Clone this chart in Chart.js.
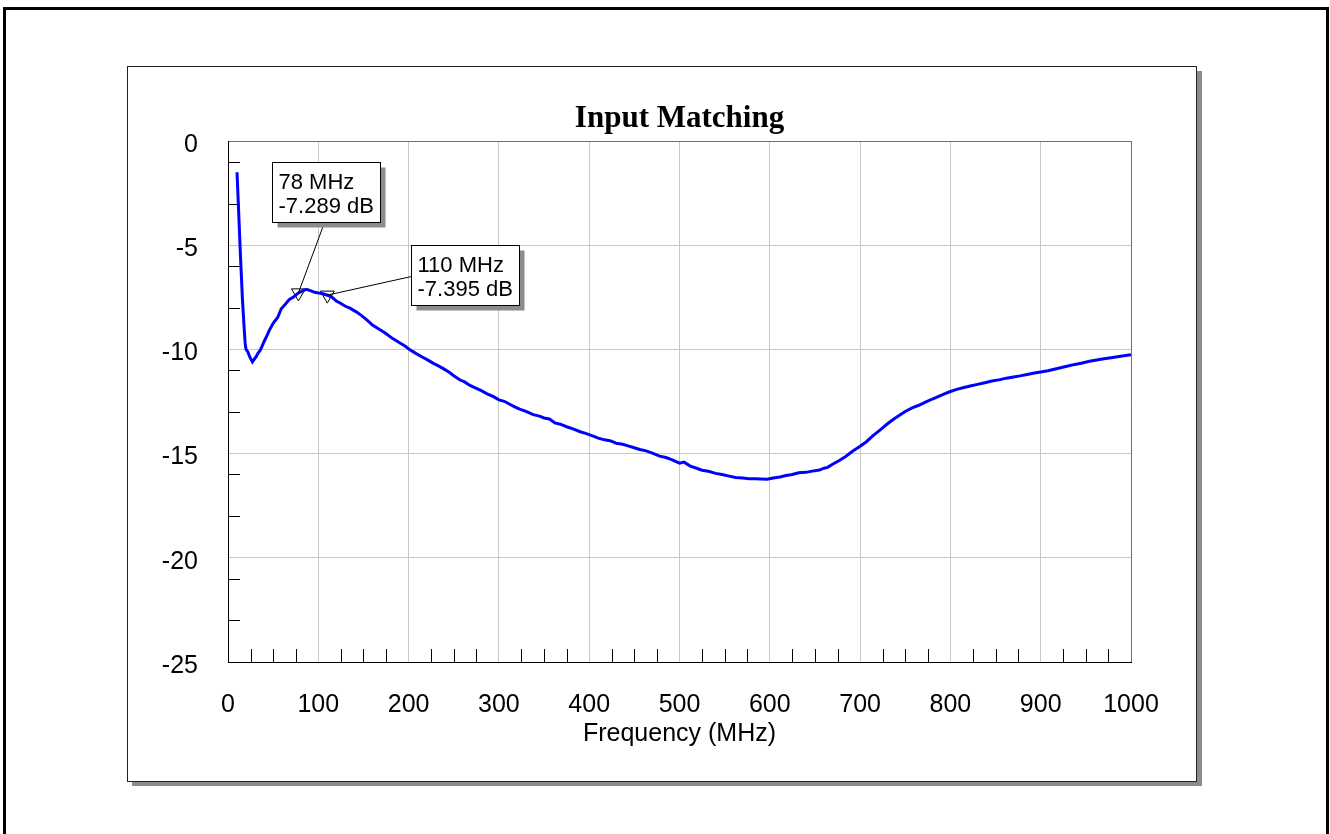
<!DOCTYPE html>
<html>
<head>
<meta charset="utf-8">
<title>Input Matching</title>
<script src="https://cdn.jsdelivr.net/npm/chart.js@4.4.1/dist/chart.umd.min.js"></script>
<style>
  html, body { margin: 0; padding: 0; background: #fff; }
  canvas { display: block; }
</style>
</head>
<body>
<canvas id="s11Chart" width="1330" height="834"></canvas>
<script>
// measured return loss, MHz / dB
const freq = [
  10, 12, 14, 16, 18, 19, 20, 22, 24, 27, 29, 31, 33, 36, 40, 43, 46, 50, 55, 59,
  63, 68, 73, 78, 83, 87, 92, 96, 101, 105, 110, 115, 120, 125, 130, 135, 142, 148, 155, 160,
  167, 174, 182, 190, 196, 201, 208, 214, 220, 227, 233, 238, 245, 250, 257, 262, 268, 275, 280, 287,
  294, 300, 306, 312, 318, 323, 330, 338, 345, 350, 356, 362, 368, 375, 382, 390, 396, 403, 410, 417,
  423, 430, 437, 443, 450, 456, 463, 470, 478, 485, 492, 500, 505, 512, 518, 525, 532, 540, 547, 555,
  562, 570, 577, 584, 590, 597, 604, 611, 618, 625, 632, 640, 647, 655, 660, 664, 670, 677, 684, 692,
  700, 707, 714, 722, 730, 737, 744, 750, 757, 765, 773, 780, 787, 794, 800, 807, 815, 822, 830, 838,
  846, 855, 862, 870, 877, 885, 893, 900, 908, 915, 922, 930, 938, 946, 954, 962, 970, 978, 985, 992,
  1000
];
const s11 = [
  -1.50, -3.60, -5.70, -7.60, -9.05, -9.70, -10.00, -10.12, -10.35, -10.60, -10.48, -10.36, -10.20, -10.02, -9.62, -9.35, -9.06, -8.75, -8.47, -8.05,
  -7.86, -7.60, -7.47, -7.29, -7.18, -7.12, -7.19, -7.26, -7.30, -7.33, -7.40, -7.49, -7.68, -7.80, -7.93, -8.02, -8.20, -8.38, -8.63, -8.83,
  -9.02, -9.21, -9.47, -9.68, -9.84, -10.00, -10.19, -10.34, -10.48, -10.66, -10.79, -10.91, -11.10, -11.26, -11.47, -11.56, -11.73, -11.87, -11.97, -12.13,
  -12.27, -12.42, -12.49, -12.63, -12.77, -12.87, -12.97, -13.13, -13.20, -13.29, -13.34, -13.53, -13.59, -13.71, -13.81, -13.95, -14.03, -14.14, -14.26, -14.34,
  -14.38, -14.50, -14.55, -14.63, -14.72, -14.80, -14.87, -14.98, -15.12, -15.19, -15.30, -15.46, -15.41, -15.60, -15.69, -15.80, -15.85, -15.95, -16.00, -16.08,
  -16.15, -16.17, -16.21, -16.21, -16.22, -16.23, -16.17, -16.12, -16.05, -16.00, -15.92, -15.90, -15.84, -15.79, -15.70, -15.66, -15.50, -15.33, -15.14, -14.88,
  -14.65, -14.43, -14.15, -13.87, -13.58, -13.35, -13.15, -12.98, -12.82, -12.68, -12.52, -12.38, -12.25, -12.12, -12.02, -11.92, -11.83, -11.76, -11.68, -11.60,
  -11.52, -11.45, -11.38, -11.32, -11.27, -11.20, -11.13, -11.08, -11.02, -10.95, -10.88, -10.80, -10.72, -10.65, -10.57, -10.51, -10.45, -10.40, -10.35, -10.30,
  -10.25
];

// marker readouts
const markerFreq = [78, 110];
const markerDb = [-7.289, -7.395];

// axis ticks
const xTicks = [0, 100, 200, 300, 400, 500, 600, 700, 800, 900, 1000];
const yTicks = [0, -5, -10, -15, -20, -25];
const yMinorTicks = [-1, -3, -6, -8, -11, -13, -16, -18, -21, -23];

const chartTitle = "Input Matching";
const xTitle = "Frequency (MHz)";

// callout boxes, offset from their marker in px
const callouts = [
  { dx: -26, dy: -131, w: 108, h: 60, leadX: 52, leadY: 60 },
  { dx: 84, dy: -50, w: 108, h: 60, leadX: 0, leadY: 31 }
];

const AXIS_FONT = "Liberation Sans, Arial, sans-serif";

const framePlugin = {
  id: "frame",
  beforeDraw(chart) {
    const ctx = chart.ctx;
    ctx.save();
    ctx.fillStyle = "#fff";
    ctx.fillRect(0, 0, chart.width, chart.height);

    // outer border
    ctx.strokeStyle = "#000";
    ctx.lineWidth = 3;
    ctx.strokeRect(4.5, 8.5, 1323, 900);

    // inner panel with drop shadow
    ctx.fillStyle = "#8c8c8c";
    ctx.fillRect(132, 71, 1070, 715);
    ctx.fillStyle = "#fff";
    ctx.fillRect(127.5, 66.5, 1069, 715);
    ctx.strokeStyle = "#222";
    ctx.lineWidth = 1;
    ctx.strokeRect(127.5, 66.5, 1069, 715);

    const area = chart.chartArea;
    const cx = (area.left + area.right) / 2;
    ctx.fillStyle = "#000";
    ctx.textAlign = "center";
    ctx.textBaseline = "alphabetic";
    ctx.font = "bold 31px 'Liberation Serif', 'Times New Roman', serif";
    ctx.fillText(chartTitle, cx, 127);
    ctx.font = "25px " + AXIS_FONT;
    ctx.fillText(xTitle, cx, 741);
    ctx.restore();
  },
  beforeDatasetsDraw(chart) {
    const ctx = chart.ctx;
    const area = chart.chartArea;
    const xs = chart.scales.x;
    const ys = chart.scales.y;
    ctx.save();
    ctx.strokeStyle = "#000";
    ctx.lineWidth = 1;
    ctx.beginPath();
    // minor ticks along the bottom, every 25 MHz between gridlines
    for (let f = 25; f < 1000; f += 25) {
      if (f % 100 === 0) continue;
      const px = Math.round(xs.getPixelForValue(f)) + 0.5;
      ctx.moveTo(px, area.bottom);
      ctx.lineTo(px, area.bottom - 13);
    }
    yMinorTicks.forEach(v => {
      const py = Math.round(ys.getPixelForValue(v)) + 0.5;
      ctx.moveTo(area.left, py);
      ctx.lineTo(area.left + 12, py);
    });
    ctx.stroke();
    ctx.restore();
  },
  afterDatasetsDraw(chart) {
    const ctx = chart.ctx;
    const xs = chart.scales.x;
    const ys = chart.scales.y;
    ctx.save();
    markerFreq.forEach((f, i) => {
      const c = callouts[i];
      const px = xs.getPixelForValue(f);
      const py = ys.getPixelForValue(markerDb[i]);
      const bx = Math.round(px + c.dx) + 0.5;
      const by = Math.round(py + c.dy) + 0.5;

      ctx.strokeStyle = "#000";
      ctx.lineWidth = 1;
      ctx.beginPath();
      ctx.moveTo(bx + c.leadX, by + c.leadY);
      ctx.lineTo(px, py);
      ctx.stroke();

      ctx.fillStyle = "#8c8c8c";
      ctx.fillRect(bx + 5, by + 5, c.w, c.h);
      ctx.fillStyle = "#fff";
      ctx.fillRect(bx, by, c.w, c.h);
      ctx.strokeRect(bx, by, c.w, c.h);

      ctx.fillStyle = "#000";
      ctx.font = "22px " + AXIS_FONT;
      ctx.textAlign = "left";
      ctx.textBaseline = "alphabetic";
      ctx.fillText(f + " MHz", bx + 6, by + 26);
      ctx.fillText(markerDb[i].toFixed(3) + " dB", bx + 6, by + 50);
    });
    ctx.restore();
  }
};

const edgeGrid = "#707070";
const lightGrid = "#c8c8c8";

new Chart(document.getElementById("s11Chart"), {
  type: "line",
  data: {
    datasets: [
      {
        data: freq.map((f, i) => ({ x: f, y: s11[i] })),
        borderColor: "#0000ff",
        borderWidth: 3,
        pointRadius: 0,
        tension: 0,
        fill: false
      },
      {
        data: markerFreq.map((f, i) => ({ x: f, y: markerDb[i] })),
        showLine: false,
        pointStyle: "triangle",
        rotation: 180,
        pointRadius: 8,
        pointBorderWidth: 1,
        pointBorderColor: "#000",
        pointBackgroundColor: "rgba(255,255,255,0)"
      }
    ]
  },
  options: {
    responsive: false,
    animation: false,
    layout: { padding: { left: 0, top: 141, right: 199, bottom: 0 } },
    plugins: {
      legend: { display: false },
      title: { display: false },
      tooltip: { enabled: false }
    },
    scales: {
      x: {
        type: "linear",
        min: 0,
        max: 1000,
        afterFit(scale) { scale.height = 172; },
        afterBuildTicks(scale) { scale.ticks = xTicks.map(v => ({ value: v })); },
        grid: {
          drawTicks: false,
          color: ctx => (ctx.tick && ctx.tick.value === 1000 ? edgeGrid : lightGrid),
          lineWidth: 1
        },
        border: { color: "#000", width: 1 },
        ticks: {
          color: "#000",
          font: { family: AXIS_FONT, size: 25 },
          padding: 28,
          maxRotation: 0,
          callback: v => String(v)
        }
      },
      y: {
        min: -25,
        max: 0,
        afterFit(scale) { scale.width = 228; },
        afterBuildTicks(scale) { scale.ticks = yTicks.map(v => ({ value: v })); },
        grid: {
          drawTicks: false,
          color: ctx => (ctx.tick && ctx.tick.value === 0 ? edgeGrid : lightGrid),
          lineWidth: 1
        },
        border: { color: "#000", width: 1 },
        ticks: {
          color: "#000",
          font: { family: AXIS_FONT, size: 25 },
          padding: 30,
          labelOffset: 4,
          callback: v => String(v)
        }
      }
    }
  },
  plugins: [framePlugin]
});
</script>
</body>
</html>
